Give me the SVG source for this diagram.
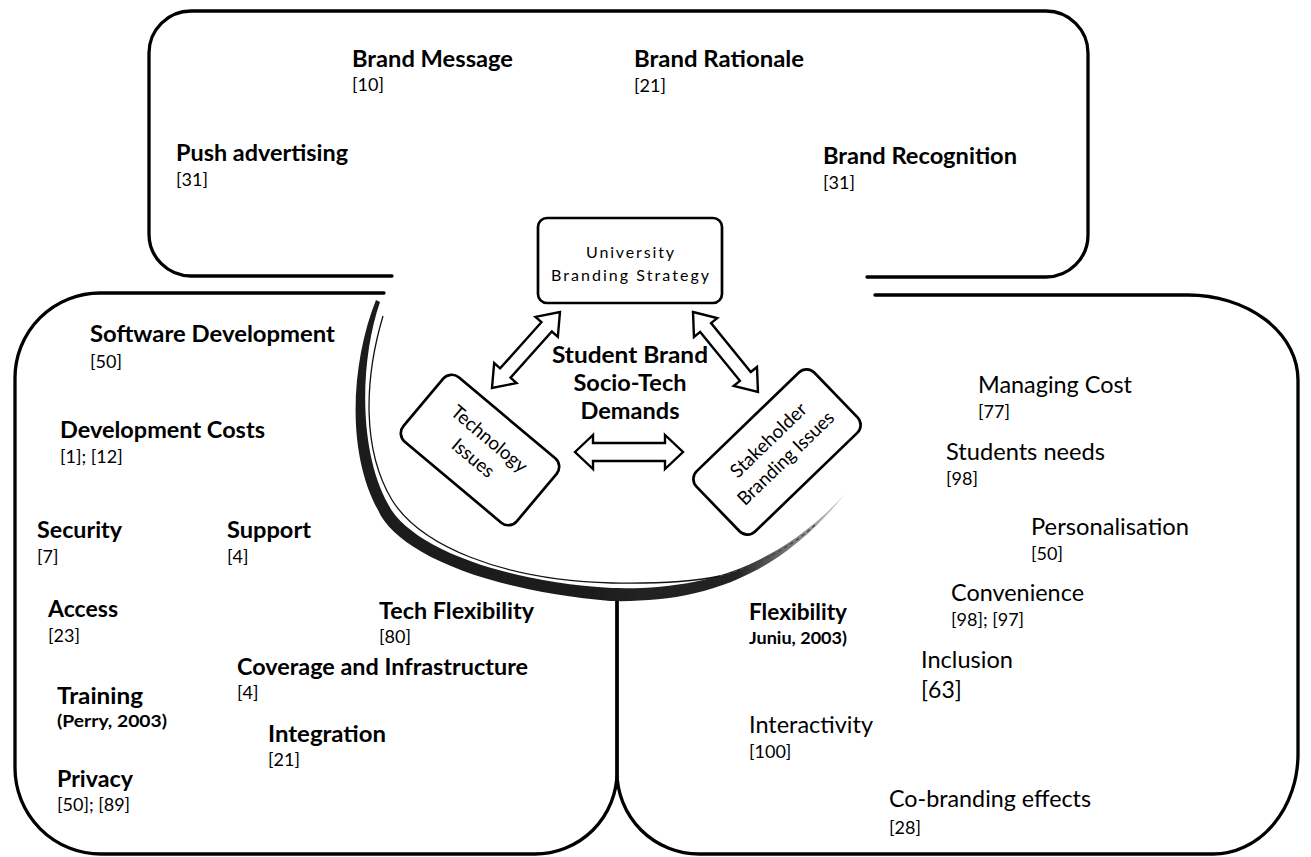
<svg xmlns="http://www.w3.org/2000/svg" width="1311" height="857" viewBox="0 0 1311 857">
<style>
.box{fill:none;stroke:#000;stroke-width:3.3;stroke-linecap:round;stroke-linejoin:round}
.node{fill:#fff;stroke:#000;stroke-width:2.7}
.arrow{fill:#fff;stroke:#000;stroke-width:2.4;stroke-linejoin:miter}
text{font-family:Lato,"Open Sans","Liberation Sans",sans-serif;fill:#000}
.h{font-size:23px;font-weight:700}
.r{font-size:23px;font-weight:400}
.ref{font-size:18px;font-weight:400}
.sm{font-size:17px;font-weight:700}
.nt{font-size:19px;font-weight:400}
.ut{font-size:16px;font-weight:400}
</style>
<defs>
<linearGradient id="bowlGrad" gradientUnits="userSpaceOnUse" x1="352" y1="0" x2="845" y2="0">
<stop offset="0" stop-color="#1a1a1a"/>
<stop offset="0.78" stop-color="#222"/>
<stop offset="1" stop-color="#d0d0d0"/>
</linearGradient>
<filter id="soft" x="-5%" y="-5%" width="110%" height="110%"><feGaussianBlur stdDeviation="0.7"/></filter>
</defs>

<g id="top-region">
<path class="box" d="M392,276 L191,276 A42,42 0 0 1 149,234 L149,53 A42,42 0 0 1 191,11 L1046,11 A42,42 0 0 1 1088,53 L1088,235 A42,42 0 0 1 1046,277 L867,277"/>
<text class="h" x="352" y="67" textLength="161" lengthAdjust="spacingAndGlyphs">Brand Message</text>
<text class="ref" x="352" y="91">[10]</text>
<text class="h" x="634" y="67" textLength="170" lengthAdjust="spacingAndGlyphs">Brand Rationale</text>
<text class="ref" x="634" y="92">[21]</text>
<text class="h" x="176" y="161" textLength="172" lengthAdjust="spacingAndGlyphs">Push advertising</text>
<text class="ref" x="176" y="186">[31]</text>
<text class="h" x="823" y="164" textLength="194" lengthAdjust="spacingAndGlyphs">Brand Recognition</text>
<text class="ref" x="823" y="189">[31]</text>
</g>

<g id="technology-region">
<path class="box" d="M384,293 L100,293 A85,85 0 0 0 15,378 L15,768 A86,86 0 0 0 101,854 L535,854 A82,82 0 0 0 617,772 L617,601"/>
<text class="h" x="90" y="342" textLength="245" lengthAdjust="spacingAndGlyphs">Software Development</text>
<text class="ref" x="90" y="368">[50]</text>
<text class="h" x="60" y="438" textLength="205" lengthAdjust="spacingAndGlyphs">Development Costs</text>
<text class="ref" x="60" y="463">[1]; [12]</text>
<text class="h" x="37" y="538" textLength="85" lengthAdjust="spacingAndGlyphs">Security</text>
<text class="ref" x="37" y="563">[7]</text>
<text class="h" x="227" y="538" textLength="84" lengthAdjust="spacingAndGlyphs">Support</text>
<text class="ref" x="227" y="563">[4]</text>
<text class="h" x="48" y="617" textLength="70" lengthAdjust="spacingAndGlyphs">Access</text>
<text class="ref" x="48" y="642">[23]</text>
<text class="h" x="379" y="619" textLength="155" lengthAdjust="spacingAndGlyphs">Tech Flexibility</text>
<text class="ref" x="379" y="643">[80]</text>
<text class="h" x="237" y="675" textLength="291" lengthAdjust="spacingAndGlyphs">Coverage and Infrastructure</text>
<text class="ref" x="237" y="699">[4]</text>
<text class="h" x="57" y="704" textLength="86" lengthAdjust="spacingAndGlyphs">Training</text>
<text class="sm" x="57" y="727" textLength="110" lengthAdjust="spacingAndGlyphs">(Perry, 2003)</text>
<text class="h" x="268" y="742" textLength="118" lengthAdjust="spacingAndGlyphs">Integration</text>
<text class="ref" x="268" y="766">[21]</text>
<text class="h" x="57" y="787" textLength="76" lengthAdjust="spacingAndGlyphs">Privacy</text>
<text class="ref" x="57" y="811">[50]; [89]</text>
</g>

<g id="stakeholder-region">
<path class="box" d="M617,601 L617,772 A82,82 0 0 0 699,854 L1213,854 A85,100 0 0 0 1298,754 L1298,380 A110,85 0 0 0 1188,295 L875,295"/>
<text class="r" x="978" y="393" textLength="154" lengthAdjust="spacingAndGlyphs">Managing Cost</text>
<text class="ref" x="978" y="418">[77]</text>
<text class="r" x="946" y="460" textLength="159" lengthAdjust="spacingAndGlyphs">Students needs</text>
<text class="ref" x="946" y="485">[98]</text>
<text class="r" x="1031" y="535" textLength="158" lengthAdjust="spacingAndGlyphs">Personalisation</text>
<text class="ref" x="1031" y="560">[50]</text>
<text class="r" x="951" y="601" textLength="133" lengthAdjust="spacingAndGlyphs">Convenience</text>
<text class="ref" x="951" y="626">[98]; [97]</text>
<text class="h" x="749" y="620" textLength="98" lengthAdjust="spacingAndGlyphs">Flexibility</text>
<text class="sm" x="749" y="644" textLength="98" lengthAdjust="spacingAndGlyphs">Juniu, 2003)</text>
<text class="r" x="921" y="668" textLength="92" lengthAdjust="spacingAndGlyphs">Inclusion</text>
<text class="r" x="921" y="698">[63]</text>
<text class="r" x="749" y="733" textLength="124" lengthAdjust="spacingAndGlyphs">Interactivity</text>
<text class="ref" x="749" y="758">[100]</text>
<text class="r" x="889" y="807" textLength="202" lengthAdjust="spacingAndGlyphs">Co-branding effects</text>
<text class="ref" x="889" y="834">[28]</text>
</g>

<g id="bowl">
<path d="M376,300 C352,360 345,450 378,510 C395,550 480,590 610,601 C690,603 772,585 845,494 C770,575 690,590 612,588 C505,582 410,548 388,504 C358,450 360,360 380,302 Z" fill="url(#bowlGrad)" filter="url(#soft)"/>
<path d="M383,316 C364,380 362,450 392,500 C420,545 500,580 612,583 C660,584 690,582 720,576" fill="none" stroke="#111" stroke-width="1.3"/>
<path d="M720,576 C752,567 788,550 815,525" fill="none" stroke="#444" stroke-width="1.2" stroke-dasharray="4 3"/>
<text class="h" x="630" y="363" text-anchor="middle" textLength="156" lengthAdjust="spacingAndGlyphs">Student  Brand</text>
<text class="h" x="630" y="391" text-anchor="middle" textLength="113" lengthAdjust="spacingAndGlyphs">Socio-Tech</text>
<text class="h" x="630" y="419" text-anchor="middle" textLength="99" lengthAdjust="spacingAndGlyphs">Demands</text>
</g>

<g id="university">
<rect class="node" x="538" y="218" width="184" height="85" rx="9"/>
<text class="ut" x="630" y="258" text-anchor="middle" textLength="88" lengthAdjust="spacing">University</text>
<text class="ut" x="630" y="281" text-anchor="middle" textLength="158" lengthAdjust="spacing">Branding Strategy</text>
</g>

<g id="technology" transform="translate(480,450) rotate(40)">
<rect class="node" x="-74" y="-42" width="148" height="84" rx="11"/>
<text class="nt" x="0" y="-8" text-anchor="middle" textLength="93" lengthAdjust="spacingAndGlyphs">Technology</text>
<text class="nt" x="0" y="17" text-anchor="middle" textLength="49" lengthAdjust="spacingAndGlyphs">Issues</text>
</g>

<g id="stakeholder" transform="translate(777,452) rotate(-44)">
<rect class="node" x="-82" y="-42" width="164" height="84" rx="11"/>
<text class="nt" x="2" y="-8" text-anchor="middle" textLength="98" lengthAdjust="spacingAndGlyphs">Stakeholder</text>
<text class="nt" x="2" y="17" text-anchor="middle" textLength="126" lengthAdjust="spacingAndGlyphs">Branding Issues</text>
</g>

<g id="connectors">
<path class="arrow" transform="translate(492,388) rotate(-48.2)" d="M0,0 L20,-15 L20,-7 L82,-7 L82,-15 L102,0 L82,15 L82,7 L20,7 L20,15 Z"/>
<path class="arrow" transform="translate(693,312) rotate(50.9)" d="M0,0 L20,-15 L20,-7 L83,-7 L83,-15 L103,0 L83,15 L83,7 L20,7 L20,15 Z"/>
<path class="arrow" transform="translate(575,452)" d="M0,0 L18,-17 L18,-9 L90,-9 L90,-17 L108,0 L90,17 L90,9 L18,9 L18,17 Z"/>
</g>
</svg>
